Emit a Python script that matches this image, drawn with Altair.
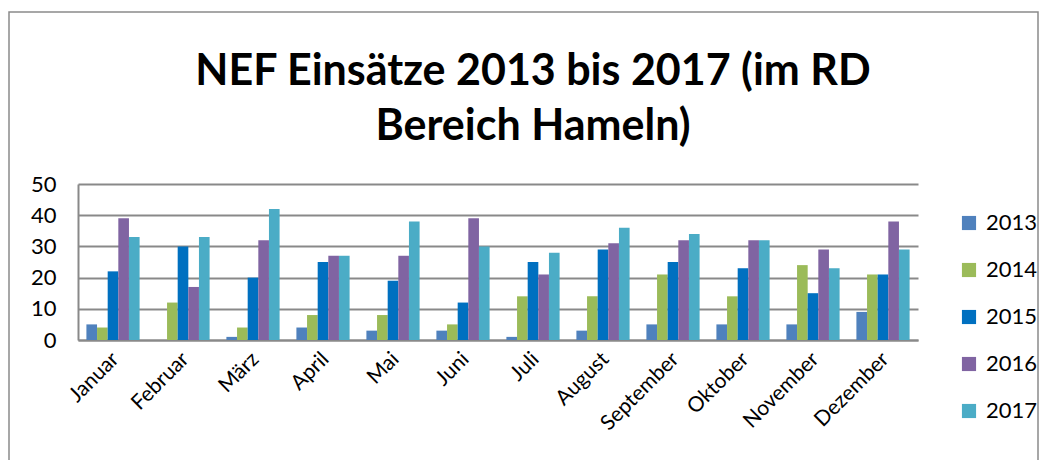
import altair as alt
import pandas as pd

months = ["Januar", "Februar", "März", "April", "Mai", "Juni", "Juli",
          "August", "September", "Oktober", "November", "Dezember"]
years = ["2013", "2014", "2015", "2016", "2017"]
v2013 = [5, 0, 1, 4, 3, 3, 1, 3, 5, 5, 5, 9]
v2014 = [4, 12, 4, 8, 8, 5, 14, 14, 21, 14, 24, 21]
v2015 = [22, 30, 20, 25, 19, 12, 25, 29, 25, 23, 15, 21]
v2016 = [39, 17, 32, 27, 27, 39, 21, 31, 32, 32, 29, 38]
v2017 = [33, 33, 42, 27, 38, 30, 28, 36, 34, 32, 23, 29]
colors = ["#4F81BD", "#9BBB59", "#0070C0", "#8064A2", "#4BACC6"]

series = [v2013, v2014, v2015, v2016, v2017]
rows = []
for y, vals in zip(years, series):
    for m, v in zip(months, vals):
        rows.append({"Monat": m, "Jahr": y, "Einsätze": v})
df = pd.DataFrame(rows)

FONT = "Lato"
GRID = "#898989"

bars = alt.Chart(df).mark_bar().encode(
    x=alt.X("Monat:N", sort=months,
            scale=alt.Scale(paddingInner=0.24, paddingOuter=0.12),
            axis=alt.Axis(title=None, labelAngle=-45, labelFontSize=21, labelFont=FONT,
                          labelColor="#000000", ticks=False, domainColor=GRID,
                          domainWidth=2, labelPadding=8, labelOffset=-5)),
    xOffset=alt.XOffset("Jahr:N", sort=years, scale=alt.Scale(paddingInner=0)),
    y=alt.Y("Einsätze:Q", scale=alt.Scale(domain=[0, 50], nice=False),
            axis=alt.Axis(title=None, values=[0, 10, 20, 30, 40, 50], grid=True,
                          gridColor=GRID, gridWidth=2, domainColor=GRID, domainWidth=2,
                          ticks=False, labelFontSize=22, labelFont=FONT,
                          labelColor="#000000", labelPadding=22)),
    color=alt.Color("Jahr:N", sort=years,
                    scale=alt.Scale(domain=years, range=colors),
                    legend=alt.Legend(title=None, orient="none", legendX=880, legendY=28,
                                      symbolType="square", symbolSize=200,
                                      symbolStrokeWidth=0, labelFontSize=22,
                                      labelFont=FONT, labelColor="#000000",
                                      rowPadding=25, labelOffset=6)),
)

frame = alt.Chart(pd.DataFrame({"f": [0]})).mark_rect(
    fill="transparent", stroke="#8a8a8a", strokeWidth=1.5
).encode(x=alt.value(-69), x2=alt.value(960), y=alt.value(-172), y2=alt.value(290))

chart = alt.layer(frame, bars).properties(
    width=840, height=156,
    autosize=alt.AutoSizeParams(type="none"),
    padding={"left": 70, "top": 176, "right": 123, "bottom": 120},
    title=alt.TitleParams(
        text=["NEF Einsätze 2013 bis 2017 (im RD", "Bereich Hameln)"],
        font=FONT, fontSize=43, fontWeight="bold", color="#000000",
        anchor="middle", lineHeight=55, offset=-138, dx=35,
    ),
).configure_view(stroke="transparent")

chart.save("out.html", embed_options={"renderer": "svg", "actions": False})
